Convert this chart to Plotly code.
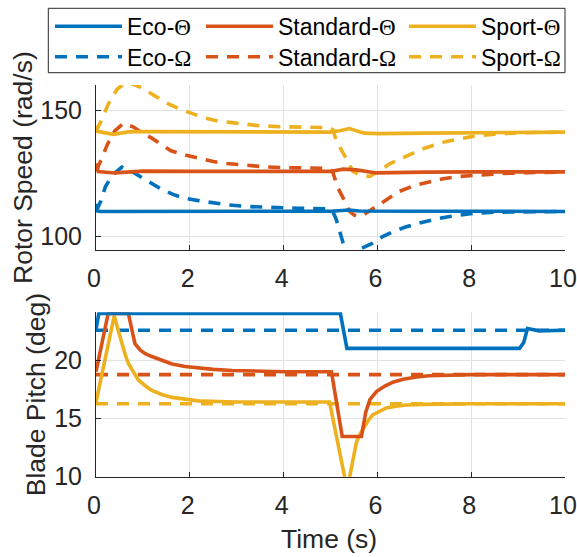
import plotly.graph_objects as go

# ---------------- data ----------------
# Rotor speed (rad/s)
eco_theta_speed_t = [0, 0.03, 0.1, 1, 2, 3, 4, 5, 5.2, 5.4, 5.6, 6, 7, 8, 9, 10]
eco_theta_speed_y = [113.0, 110.2, 110.0, 110.1, 110.1, 110.1, 110.1, 110.1, 110.3, 110.6, 110.2, 110.1, 110.1, 110.1, 110.0, 110.0]

std_theta_speed_t = [0, 0.05, 0.4, 0.8, 1.0, 2, 3, 4, 5.0, 5.27, 5.55, 5.98, 6.3, 7, 8, 9, 10]
std_theta_speed_y = [129.0, 125.8, 125.3, 125.9, 126.0, 125.9, 125.9, 125.9, 125.9, 126.8, 126.5, 125.3, 125.5, 125.6, 125.7, 125.7, 125.7]

spo_theta_speed_t = [0, 0.03, 0.37, 0.69, 1, 2, 3, 4, 5.0, 5.2, 5.4, 5.72, 6.0, 7, 8, 9, 10]
spo_theta_speed_y = [144.0, 141.8, 140.6, 141.6, 141.7, 141.6, 141.6, 141.6, 141.5, 142.0, 142.9, 141.1, 140.9, 141.1, 141.3, 141.4, 141.5]

eco_omega_speed_t = [0, 0.1, 0.2, 0.35, 0.55, 0.8, 1.0, 1.19, 1.4, 1.68, 1.9, 2.18, 2.5, 2.82, 3.3, 3.8, 4.3, 4.98,
                     5.05, 5.12, 5.2, 5.27, 5.35, 5.45, 5.55, 5.62, 5.9, 6.1, 6.33, 6.6, 6.9, 7.2, 7.54, 8.03, 8.5, 9.0, 10]
eco_omega_speed_y = [110.0, 114.0, 119.8, 124.5, 127.6, 125.5, 123.2, 121.2, 118.8, 116.5, 115.2, 114.3, 113.3, 112.6, 111.9, 111.5, 111.3, 111.0,
                     110.0, 107.0, 101.4, 97.4, 94.5, 92.5, 92.3, 95.0, 97.4, 99.9, 102.0, 103.8, 105.4, 106.8, 108.0, 109.2, 109.7, 109.9, 110.0]

std_omega_speed_t = [0, 0.1, 0.24, 0.4, 0.59, 0.8, 1.0, 1.19, 1.4, 1.6, 1.9, 2.18, 2.5, 2.75, 3.2, 3.6, 4.0, 4.5, 4.98,
                     5.05, 5.16, 5.27, 5.41, 5.5, 5.59, 5.7, 5.98, 6.2, 6.47, 6.8, 7.11, 7.4, 7.75, 8.25, 8.7, 9.2, 10]
std_omega_speed_y = [126.0, 130.0, 136.5, 142.0, 145.0, 143.5, 141.0, 139.1, 136.5, 134.1, 132.4, 131.1, 129.8, 129.1, 128.2, 127.7, 127.4, 127.2, 127.1,
                     125.5, 119.3, 115.3, 110.0, 108.6, 108.0, 108.6, 112.0, 114.6, 118.0, 120.4, 121.9, 123.0, 123.9, 124.6, 125.1, 125.4, 125.6]

spo_omega_speed_t = [0, 0.1, 0.27, 0.45, 0.65, 0.94, 1.2, 1.47, 1.75, 2.04, 2.3, 2.6, 3.07, 3.5, 4.0, 4.5, 4.98,
                     5.05, 5.13, 5.27, 5.48, 5.65, 5.84, 6.05, 6.26, 6.6, 6.9, 7.2, 7.47, 8.03, 8.5, 9.0, 10]
spo_omega_speed_y = [141.8, 145.5, 152.9, 158.5, 161.5, 159.4, 156.5, 153.4, 150.9, 148.8, 147.2, 145.9, 144.8, 144.0, 143.6, 143.4, 143.3,
                     142.5, 137.8, 133.2, 125.9, 124.3, 123.9, 126.3, 128.9, 131.8, 134.4, 136.3, 137.8, 139.8, 140.7, 141.2, 141.5]

# Blade pitch (deg)
eco_theta_pitch_t = [0, 0.06, 5.21, 5.35, 9.03, 9.12, 9.2, 9.3, 9.45, 10]
eco_theta_pitch_y = [22.6, 24.0, 24.0, 21.0, 21.0, 21.5, 22.7, 22.6, 22.5, 22.55]

std_theta_pitch_t = [0, 0.26, 0.69, 0.76, 0.83, 0.94, 1.05, 1.19, 1.4, 1.62, 1.9, 2.18, 2.5, 2.9, 3.5, 4.0, 5.02,
                     5.25, 5.66, 5.75, 5.84, 5.98, 6.15, 6.33, 6.55, 6.83, 7.1, 7.4, 8.0, 10]
std_theta_pitch_y = [19.0, 24.0, 24.0, 22.5, 21.4, 20.86, 20.55, 20.3, 19.95, 19.66, 19.45, 19.3, 19.2, 19.1, 19.05, 19.0, 19.0,
                     13.45, 13.45, 15.5, 16.6, 17.3, 17.75, 18.1, 18.35, 18.55, 18.65, 18.7, 18.75, 18.75]

spo_theta_pitch_t = [0, 0.39, 0.47, 0.55, 0.62, 0.69, 0.8, 0.9, 1.05, 1.19, 1.4, 1.62, 1.9, 2.18, 2.6, 3.0, 4.98,
                     5.3, 5.356, 5.41, 5.48, 5.55, 5.62, 5.69, 5.8, 5.9, 6.05, 6.19, 6.4, 6.62, 7.0, 8.0, 10]
spo_theta_pitch_y = [16.4, 23.8, 22.6, 21.4, 20.5, 19.7, 18.9, 18.3, 17.8, 17.4, 17.05, 16.8, 16.65, 16.5, 16.45, 16.4, 16.4,
                     10.0, 8.9, 10.0, 11.6, 12.9, 13.6, 14.1, 14.8, 15.3, 15.65, 15.9, 16.05, 16.15, 16.2, 16.25, 16.25]

eco_omega_pitch_t = [0, 10]
eco_omega_pitch_y = [22.55, 22.55]
std_omega_pitch_t = [0, 10]
std_omega_pitch_y = [18.75, 18.75]
spo_omega_pitch_t = [0, 10]
spo_omega_pitch_y = [16.25, 16.25]

series_names = ["Eco", "Standard", "Sport"]
series_colors = ["#0072BD", "#D95319", "#EDB120"]
x_ticks = [0, 2, 4, 6, 8, 10]
speed_ticks = [100, 150]
pitch_ticks = [10, 15, 20]

# ---------------- layout geometry ----------------
W, H = 577, 557
L, R, T, B = 96, 12, 85, 80
FONT = "Liberation Sans"
INK = "#262626"
GRID = "#e2e2e2"
LW = 3.6
DASH = "12px,9px"
TICK_FS = 25
TITLE_FS = 26.5
LEG_FS = 23


def py(pix):  # pixel y -> paper y
    return (H - B - pix) / (H - T - B)


def px(pix):  # pixel x -> paper x
    return (pix - L) / (W - L - R)


theta = "<span style=\"font-family:'Liberation Serif'\">Θ</span>"
omega = "<span style=\"font-family:'Liberation Serif'\">Ω</span>"

fig = go.Figure()

speed_theta = [(eco_theta_speed_t, eco_theta_speed_y), (std_theta_speed_t, std_theta_speed_y), (spo_theta_speed_t, spo_theta_speed_y)]
speed_omega = [(eco_omega_speed_t, eco_omega_speed_y), (std_omega_speed_t, std_omega_speed_y), (spo_omega_speed_t, spo_omega_speed_y)]
pitch_theta = [(eco_theta_pitch_t, eco_theta_pitch_y), (std_theta_pitch_t, std_theta_pitch_y), (spo_theta_pitch_t, spo_theta_pitch_y)]
pitch_omega = [(eco_omega_pitch_t, eco_omega_pitch_y), (std_omega_pitch_t, std_omega_pitch_y), (spo_omega_pitch_t, spo_omega_pitch_y)]

theta_legends = ["legend", "legend2", "legend3"]
omega_legends = ["legend4", "legend5", "legend6"]

for i in range(3):
    t, y = speed_omega[i]
    fig.add_trace(go.Scatter(x=t, y=y, mode="lines", name=series_names[i] + "-" + omega,
                             line=dict(color=series_colors[i], width=LW, dash=DASH),
                             legend=omega_legends[i], legendgroup=series_names[i] + "O",
                             xaxis="x", yaxis="y"))
    t, y = pitch_omega[i]
    fig.add_trace(go.Scatter(x=t, y=y, mode="lines", showlegend=False,
                             line=dict(color=series_colors[i], width=LW, dash=DASH),
                             legendgroup=series_names[i] + "O", xaxis="x2", yaxis="y2"))
for i in [2, 1, 0]:
    t, y = speed_theta[i]
    fig.add_trace(go.Scatter(x=t, y=y, mode="lines", name=series_names[i] + "-" + theta,
                             line=dict(color=series_colors[i], width=LW),
                             legend=theta_legends[i], legendgroup=series_names[i] + "T",
                             xaxis="x", yaxis="y"))
    t, y = pitch_theta[i]
    fig.add_trace(go.Scatter(x=t, y=y, mode="lines", showlegend=False,
                             line=dict(color=series_colors[i], width=LW),
                             legendgroup=series_names[i] + "T", xaxis="x2", yaxis="y2"))

axis_common = dict(showline=True, linecolor=INK, linewidth=1, mirror=False,
                   ticks="inside", ticklen=5, tickcolor=INK, tickwidth=1,
                   showgrid=True, gridcolor=GRID, gridwidth=1, zeroline=False,
                   tickfont=dict(family=FONT, size=TICK_FS, color=INK),
                   automargin=False, ticklabeloverflow="allow")

fig.update_layout(
    width=W, height=H,
    margin=dict(l=L, r=R, t=T, b=B, pad=0, autoexpand=False),
    template="none",
    paper_bgcolor="white", plot_bgcolor="white",
    font=dict(family=FONT, color=INK),
    xaxis=dict(axis_common, domain=[0, 1], range=[0, 10], tickvals=x_ticks, anchor="y",
               ticklabelstandoff=6, ticklabelshift=-2),
    yaxis=dict(axis_common, domain=[py(250), py(85)], range=[94.7, 160.2], tickvals=speed_ticks, anchor="x",
               ticklabelstandoff=8),
    xaxis2=dict(axis_common, domain=[0, 1], range=[0, 10], tickvals=x_ticks, anchor="y2",
                ticklabelstandoff=6, ticklabelshift=-2),
    yaxis2=dict(axis_common, domain=[py(476.7), py(312.2)], range=[10, 24.1], tickvals=pitch_ticks, anchor="x2",
                ticklabelstandoff=8),
)

# axis titles
title_font = dict(family=FONT, size=TITLE_FS, color=INK)
fig.add_annotation(text="Rotor Speed (rad/s)", textangle=-90, xref="paper", yref="paper",
                   x=px(22.5), y=py(167.5), xanchor="center", yanchor="middle", showarrow=False, font=title_font)
fig.add_annotation(text="Blade Pitch (deg)", textangle=-90, xref="paper", yref="paper",
                   x=px(35.8), y=py(394.5), xanchor="center", yanchor="middle", showarrow=False, font=title_font)
fig.add_annotation(text="Time (s)", xref="paper", yref="paper",
                   x=px(329), y=py(538.8), xanchor="center", yanchor="middle", showarrow=False, font=title_font)

# legends: one per entry, positioned as a 3x2 grid
leg_common = dict(orientation="v", xref="container", yref="container", xanchor="left", yanchor="top",
                  bgcolor="rgba(0,0,0,0)", borderwidth=0, itemwidth=67,
                  font=dict(family=FONT, size=LEG_FS, color="black"), tracegroupgap=0)
col_left = [50, 201, 404]
row_top = [4.75, 35.25]
leg_layout = {}
for i in range(3):
    leg_layout[theta_legends[i]] = dict(leg_common, x=col_left[i] / W, y=1 - row_top[0] / H)
    leg_layout[omega_legends[i]] = dict(leg_common, x=col_left[i] / W, y=1 - row_top[1] / H)
fig.update_layout(**leg_layout)

fig.add_shape(type="rect", xref="paper", yref="paper",
              x0=px(48.3), x1=px(565), y0=py(72.7), y1=py(8.3),
              line=dict(color=INK, width=1), fillcolor="rgba(0,0,0,0)", layer="above")

fig.write_html("out.html", config={"displayModeBar": False},
               post_script="document.body.style.margin='0px';")
